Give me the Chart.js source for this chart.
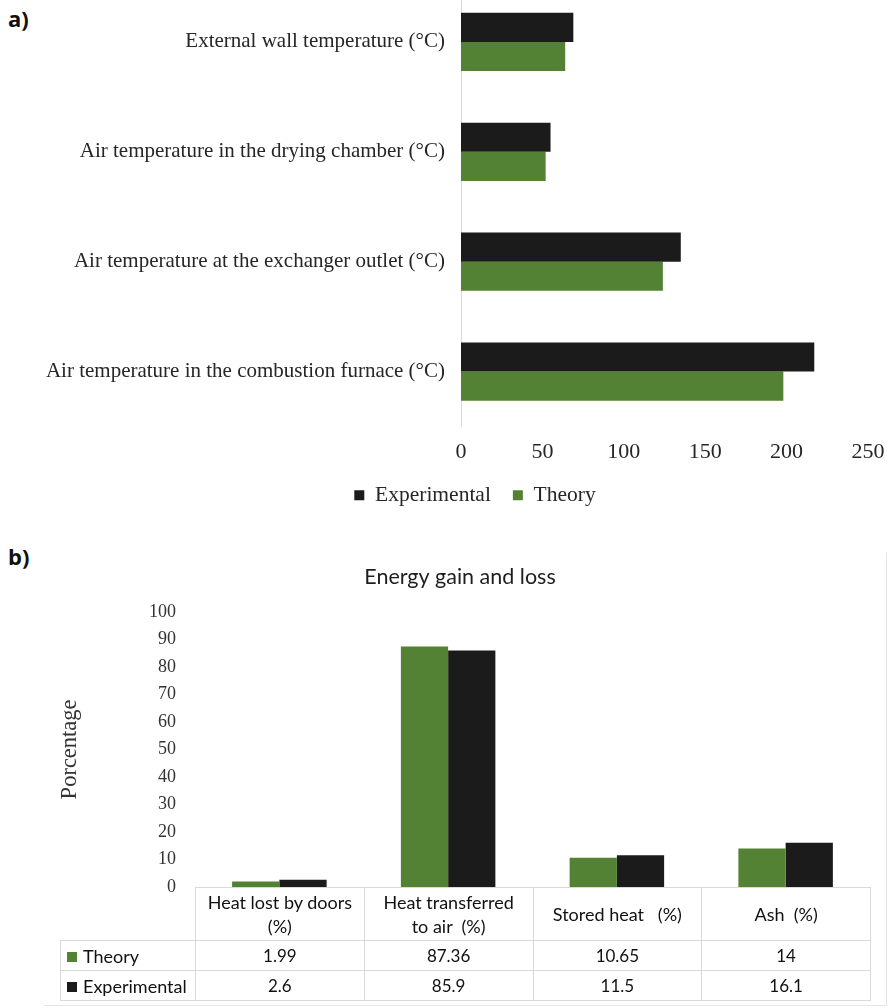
<!DOCTYPE html>
<html>
<head>
<meta charset="utf-8">
<script src="https://cdn.jsdelivr.net/npm/chart.js@4.4.1/dist/chart.umd.min.js"></script>
<style>
  html, body { margin: 0; padding: 0; background: #fff; }
  body { position: relative; width: 891px; height: 1008px; overflow: hidden; }
  .tag { position: absolute; font-family: "Open Sans", sans-serif; font-weight: 700; font-size: 22px; color: #111; line-height: 1; }
  #ca { position: absolute; left: 0; top: -13px; }
  #cb { position: absolute; left: 50px; top: 560px; }
  #frameB { position: absolute; left: 44px; top: 553px; width: 842px; height: 452px;
            border-right: 1px solid #e6e6e6; border-bottom: 1px solid #e6e6e6; }
  #tbl { position: absolute; left: 60px; top: 887px; border-collapse: collapse; table-layout: fixed;
         font-family: Lato, sans-serif; font-size: 18px; color: #111; }
  #tbl td { border: 1px solid #d9d9d9; text-align: center; padding: 0; white-space: pre; line-height: 24px; }
  #tbl td.blank { border: none; }
  #tbl td.rowlab { text-align: left; padding-left: 6px; }
  #tbl td.val { font-size: 17px; }
  .sw { display: inline-block; width: 10px; height: 10px; margin-right: 6px; vertical-align: 1px; }
</style>
</head>
<body>
<div class="tag" style="left:8px;top:7px;">a)</div>
<div class="tag" style="left:8px;top:545px;">b)</div>
<div id="frameB"></div>
<canvas id="ca" width="891" height="529"></canvas>
<canvas id="cb" width="820" height="345"></canvas>
<table id="tbl"></table>

<script>
// Panel a: temperatures (°C)
const tempCategories = [
  'External wall temperature (°C)',
  'Air temperature in the drying chamber (°C)',
  'Air temperature at the exchanger outlet (°C)',
  'Air temperature in the combustion furnace (°C)'
];
const tempExperimental = [69, 55, 135, 217];
const tempTheory = [64, 52, 124, 198];

// Panel b: energy balance (%)
const energyCategories = [
  ['Heat lost by doors', '(%)'],
  ['Heat transferred', 'to air  (%)'],
  'Stored heat   (%)',
  'Ash  (%)'
];
const energyTheory = [1.99, 87.36, 10.65, 14];
const energyExperimental = [2.6, 85.9, 11.5, 16.1];

const GREEN = '#548235';
const BLACK = '#1b1b1b';
const SERIF = '"Liberation Serif", serif';

// Moves the bottom legend sideways so it sits under the value axis
const legendShift = {
  id: 'legendShift',
  beforeDraw(chart, args, opts) {
    const lg = chart.legend;
    if (lg) { lg.left += opts.dx; lg.right += opts.dx; }
  }
};

new Chart(document.getElementById('ca'), {
  type: 'bar',
  data: {
    labels: tempCategories,
    datasets: [
      { label: 'Experimental', data: tempExperimental, backgroundColor: BLACK },
      { label: 'Theory', data: tempTheory, backgroundColor: GREEN }
    ]
  },
  plugins: [legendShift],
  options: {
    indexAxis: 'y',
    responsive: false,
    animation: false,
    layout: { padding: { left: 0, right: 23, top: 0, bottom: 0 } },
    datasets: { bar: { barPercentage: 1, categoryPercentage: 0.53 } },
    plugins: {
      tooltip: { enabled: false },
      legendShift: { dx: 41 },
      legend: {
        position: 'bottom',
        labels: { boxWidth: 10, boxHeight: 10, padding: 22, color: '#262626',
                  font: { family: SERIF, size: 21.5 } }
      }
    },
    scales: {
      x: {
        min: 0, max: 250,
        ticks: { stepSize: 50, padding: 13, color: '#262626', font: { family: SERIF, size: 22 } },
        grid: { display: false, drawTicks: false },
        border: { display: false },
        afterFit(s) { s.height = 36; s.paddingLeft = 0; s.paddingRight = 0; }
      },
      y: {
        ticks: { padding: 16, color: '#262626', font: { family: SERIF, size: 21 } },
        grid: { display: false, drawTicks: false },
        border: { display: true, color: '#d9d9d9', width: 1 },
        afterFit(s) { s.width = 461; s.paddingTop = 0; s.paddingBottom = 0; }
      }
    }
  }
});

const chartB = new Chart(document.getElementById('cb'), {
  type: 'bar',
  data: {
    labels: energyCategories,
    datasets: [
      { label: 'Theory', data: energyTheory, backgroundColor: GREEN },
      { label: 'Experimental', data: energyExperimental, backgroundColor: BLACK }
    ]
  },
  options: {
    responsive: false,
    animation: false,
    layout: { padding: { left: 0, right: 0, top: 0, bottom: 18 } },
    datasets: { bar: { barPercentage: 1, categoryPercentage: 0.56 } },
    plugins: {
      legend: { display: false },
      tooltip: { enabled: false },
      title: {
        display: true, text: 'Energy gain and loss', color: '#1e1e1e',
        font: { family: 'Lato', size: 21.5, weight: 'normal' },
        padding: { top: 4, bottom: 22 }
      }
    },
    scales: {
      x: { display: false },
      y: {
        min: 0, max: 100,
        ticks: { stepSize: 10, padding: 19, color: '#333', font: { family: SERIF, size: 18 } },
        grid: { display: false, drawTicks: false },
        border: { display: false },
        title: { display: true, text: 'Porcentage', color: '#333',
                 font: { family: SERIF, size: 22.5 }, padding: { top: 7, bottom: 0 } },
        afterFit(s) { s.width = 145; s.paddingTop = 0; s.paddingBottom = 0; }
      }
    }
  }
});

// Data table under panel b, columns aligned with the category bands
(function buildTable() {
  const tbl = document.getElementById('tbl');
  const area = chartB.chartArea;
  const canvasLeft = 50;
  const bandW = (area.right - area.left) / energyCategories.length;
  const labW = canvasLeft + area.left - 60;

  let html = '<colgroup><col style="width:' + labW + 'px">';
  energyCategories.forEach(() => { html += '<col style="width:' + bandW + 'px">'; });
  html += '</colgroup>';

  html += '<tr style="height:53px"><td class="blank"></td>';
  energyCategories.forEach(c => {
    html += '<td>' + (Array.isArray(c) ? c.join('<br>') : c) + '</td>';
  });
  html += '</tr>';

  const rows = [
    { name: 'Theory', color: GREEN, values: energyTheory },
    { name: 'Experimental', color: BLACK, values: energyExperimental }
  ];
  rows.forEach(r => {
    html += '<tr style="height:30px"><td class="rowlab"><span class="sw" style="background:' + r.color + '"></span>' + r.name + '</td>';
    r.values.forEach(v => { html += '<td class="val">' + v + '</td>'; });
    html += '</tr>';
  });
  tbl.innerHTML = html;
  tbl.style.width = (labW + bandW * energyCategories.length) + 'px';
})();
</script>
</body>
</html>
